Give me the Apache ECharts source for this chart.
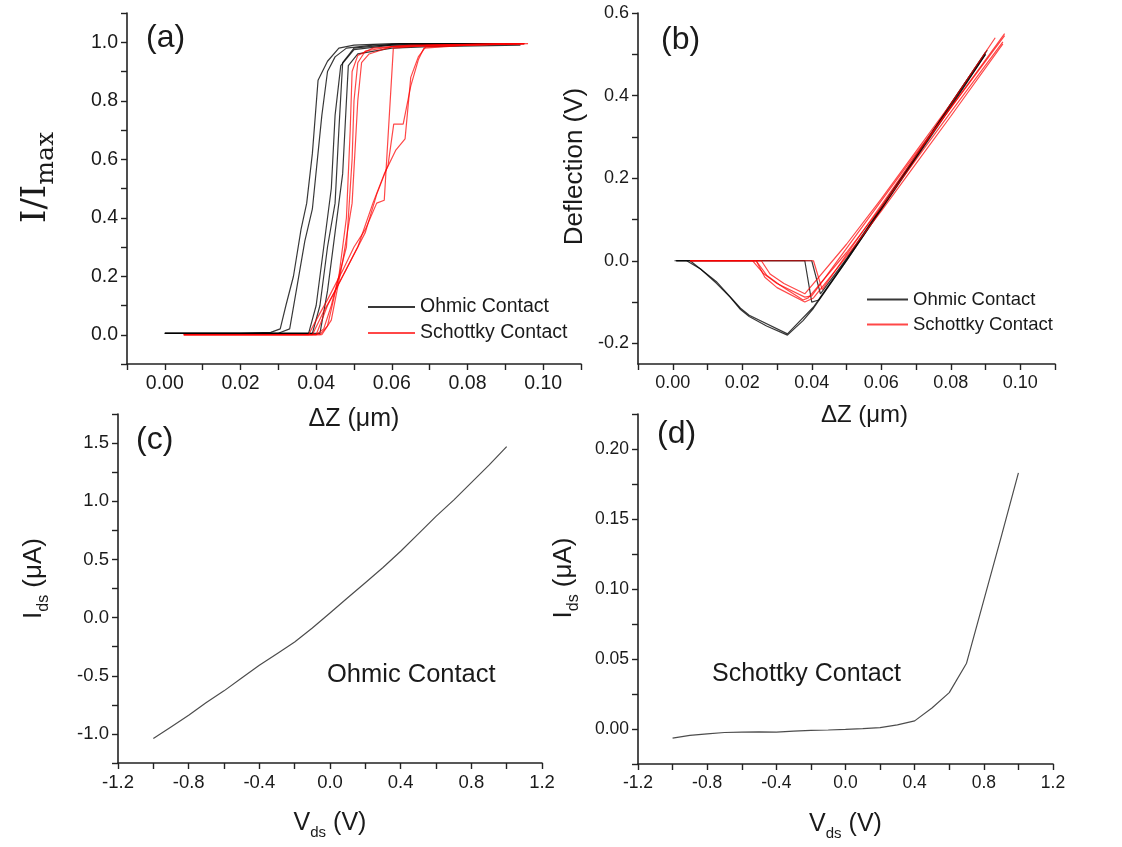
<!DOCTYPE html>
<html>
<head>
<meta charset="utf-8">
<script src="https://cdn.jsdelivr.net/npm/echarts@6.0.0/dist/echarts.min.js"></script>
<style>
html,body{margin:0;padding:0;background:#fff;}
#chart{width:1122px;height:847px;}
</style>
</head>
<body>
<div id="chart"></div>
<script>
// ---------- Panel (a): normalized current vs ΔZ (μm) ----------
const aOhmic1 = [[0.000,0.005],[0.020,0.005],[0.028,0.008],[0.0305,0.02],[0.032,0.10],[0.034,0.20],[0.036,0.36],[0.0375,0.45],[0.039,0.62],[0.0405,0.87],[0.043,0.935],[0.046,0.98],[0.050,0.99],[0.060,0.995],[0.095,0.995]];
const aOhmic2 = [[0.000,0.005],[0.030,0.005],[0.033,0.02],[0.035,0.17],[0.037,0.32],[0.039,0.43],[0.0415,0.75],[0.043,0.90],[0.045,0.95],[0.048,0.98],[0.055,0.99],[0.094,0.995]];
const aOhmic3 = [[0.000,0.005],[0.038,0.005],[0.040,0.10],[0.042,0.30],[0.044,0.50],[0.045,0.75],[0.0465,0.92],[0.050,0.975],[0.060,0.99],[0.093,0.995]];
const aOhmic4 = [[0.000,0.005],[0.039,0.005],[0.041,0.10],[0.043,0.30],[0.045,0.45],[0.046,0.70],[0.047,0.93],[0.050,0.98],[0.062,0.995],[0.092,0.995]];
const aOhmic5 = [[0.000,0.005],[0.041,0.005],[0.043,0.15],[0.045,0.35],[0.047,0.55],[0.048,0.80],[0.0485,0.92],[0.051,0.96],[0.060,0.98],[0.070,0.985],[0.094,0.99]];
const aSchottky1 = [[0.005,0.0],[0.040,0.0],[0.042,0.02],[0.044,0.10],[0.046,0.20],[0.048,0.40],[0.049,0.70],[0.0495,0.90],[0.051,0.955],[0.055,0.98],[0.065,0.99],[0.095,0.995]];
const aSchottky2 = [[0.005,0.0],[0.041,0.0],[0.043,0.03],[0.046,0.20],[0.048,0.30],[0.0495,0.60],[0.050,0.80],[0.051,0.93],[0.053,0.97],[0.060,0.985],[0.090,0.995]];
const aSchottky3 = [[0.005,0.0],[0.0415,0.0],[0.044,0.05],[0.047,0.25],[0.0495,0.45],[0.051,0.80],[0.052,0.93],[0.054,0.96],[0.060,0.985],[0.095,0.995]];
const aSchottky4 = [[0.005,0.0],[0.038,0.0],[0.040,0.05],[0.043,0.12],[0.047,0.22],[0.050,0.30],[0.053,0.36],[0.056,0.45],[0.058,0.46],[0.0604,0.98],[0.070,0.99],[0.095,0.995]];
const aSchottky5 = [[0.005,0.0],[0.039,0.0],[0.042,0.08],[0.045,0.15],[0.049,0.25],[0.053,0.35],[0.056,0.48],[0.059,0.58],[0.0605,0.72],[0.063,0.72],[0.065,0.85],[0.067,0.94],[0.0685,0.98],[0.080,0.99],[0.095,0.995]];
const aSchottky6 = [[0.005,0.0],[0.040,0.0],[0.043,0.10],[0.047,0.20],[0.051,0.30],[0.055,0.45],[0.058,0.55],[0.061,0.63],[0.0635,0.67],[0.065,0.88],[0.067,0.95],[0.069,0.985],[0.080,0.99],[0.096,0.995]];

// ---------- Panel (b): deflection (V) vs ΔZ (μm) ----------
const bOhmic1 = [[0.0005,0],[0.004,0],[0.008,-0.02],[0.0125,-0.054],[0.0165,-0.088],[0.0195,-0.118],[0.022,-0.135],[0.027,-0.158],[0.033,-0.18],[0.0375,-0.145],[0.0405,-0.115],[0.050,0.0],[0.060,0.125],[0.070,0.25],[0.080,0.38],[0.0905,0.51]];
const bOhmic2 = [[0.001,0],[0.005,0],[0.0125,-0.05],[0.0195,-0.115],[0.022,-0.132],[0.033,-0.177],[0.0405,-0.112],[0.050,0.003],[0.070,0.252],[0.090,0.50]];
const bOhmic3 = [[0.001,0],[0.038,0],[0.040,-0.10],[0.042,-0.095],[0.050,0.0],[0.060,0.124],[0.070,0.248],[0.080,0.372],[0.090,0.50]];
const bOhmic4 = [[0.001,0],[0.040,0],[0.0425,-0.08],[0.050,0.005],[0.090,0.505]];
const bSchottky1 = [[0.005,0],[0.023,0],[0.026,-0.03],[0.030,-0.055],[0.038,-0.088],[0.040,-0.085],[0.050,0.03],[0.060,0.145],[0.070,0.26],[0.080,0.37],[0.0955,0.55]];
const bSchottky2 = [[0.005,0],[0.024,0],[0.027,-0.035],[0.031,-0.06],[0.0375,-0.095],[0.039,-0.09],[0.050,0.02],[0.060,0.13],[0.070,0.245],[0.080,0.36],[0.095,0.53]];
const bSchottky3 = [[0.005,0],[0.0255,0],[0.028,-0.032],[0.032,-0.055],[0.038,-0.08],[0.050,0.04],[0.060,0.15],[0.070,0.265],[0.080,0.38],[0.0928,0.54]];
const bSchottky4 = [[0.005,0],[0.0405,0],[0.043,-0.07],[0.050,0.015],[0.060,0.135],[0.070,0.255],[0.080,0.37],[0.0955,0.545]];
const bSchottky5 = [[0.005,0],[0.024,0],[0.0265,-0.04],[0.030,-0.065],[0.038,-0.10],[0.0405,-0.09],[0.050,0.01],[0.060,0.12],[0.070,0.235],[0.080,0.35],[0.095,0.525]];

// ---------- Panels (c), (d): I-V curves ----------
const vds = [-1.0,-0.9,-0.8,-0.7,-0.6,-0.5,-0.4,-0.3,-0.2,-0.1,0.0,0.1,0.2,0.3,0.4,0.5,0.6,0.7,0.8,0.9,1.0];
const idsOhmic = [-1.04,-0.94,-0.84,-0.73,-0.63,-0.52,-0.41,-0.31,-0.21,-0.09,0.04,0.17,0.30,0.43,0.57,0.72,0.87,1.01,1.16,1.31,1.47];
const idsSchottky = [-0.0065,-0.0045,-0.0035,-0.0025,-0.0022,-0.002,-0.0022,-0.0015,-0.001,-0.0007,-0.0003,0.0003,0.001,0.003,0.0058,0.015,0.026,0.047,0.092,0.137,0.183];

// ---------- Tick values / tick labels ----------
const dzTicks = [-0.01,0.00,0.01,0.02,0.03,0.04,0.05,0.06,0.07,0.08,0.09,0.10,0.11];
const dzLabels = [0.00,0.02,0.04,0.06,0.08,0.10];
const aYTicks = [-0.1,0.0,0.1,0.2,0.3,0.4,0.5,0.6,0.7,0.8,0.9,1.0,1.1];
const aYLabels = [0.0,0.2,0.4,0.6,0.8,1.0];
const bYTicks = [-0.2,-0.1,0.0,0.1,0.2,0.3,0.4,0.5,0.6];
const bYLabels = [-0.2,0.0,0.2,0.4,0.6];
const vTicks = [-1.2,-1.0,-0.8,-0.6,-0.4,-0.2,0.0,0.2,0.4,0.6,0.8,1.0,1.2];
const vLabels = [-1.2,-0.8,-0.4,0.0,0.4,0.8,1.2];
const cYTicks = [-1.25,-1.0,-0.75,-0.5,-0.25,0.0,0.25,0.5,0.75,1.0,1.25,1.5,1.75];
const cYLabels = [-1.0,-0.5,0.0,0.5,1.0,1.5];
const dYTicks = [-0.025,0.0,0.025,0.05,0.075,0.1,0.125,0.15,0.175,0.2,0.225];
const dYLabels = [0.00,0.05,0.10,0.15,0.20];

const OHM = 'Ohmic Contact', SCH = 'Schottky Contact';
const BLACK = 'rgba(0,0,0,0.78)', RED = 'rgba(255,0,0,0.72)';
const FONT = '"Liberation Sans", Arial, sans-serif';
const SERIF = '"DejaVu Serif", "Liberation Serif", serif';
const TXT = '#1a1a1a';

function axis(type, grid, min, max, ticks, labels, dec, fs, extra) {
  const o = {
    type: 'value', gridIndex: grid, min: min, max: max, scale: true,
    axisLine: {show: true, onZero: false, lineStyle: {color: '#222', width: 1.6}},
    axisTick: {show: true, inside: false, length: 6, customValues: ticks, lineStyle: {color: '#222', width: 1.4}},
    axisLabel: {show: true, customValues: labels, margin: type === 'x' ? 10 : 9,
      formatter: v => Number(v).toFixed(dec), color: TXT, fontSize: fs, fontFamily: FONT, showMinLabel: true, showMaxLabel: true},
    splitLine: {show: false}, minorTick: {show: false}, minorSplitLine: {show: false}
  };
  return Object.assign(o, extra || {});
}

function subRich(fm, fsub, lh) {
  return {
    m: {fontSize: fm, lineHeight: lh, fontFamily: FONT, color: TXT},
    s: {fontSize: fsub, lineHeight: fsub, fontFamily: FONT, color: TXT, verticalAlign: 'bottom'}
  };
}

const option = {
  backgroundColor: '#fff',
  animation: false,
  grid: [
    {left: 127, top: 13, width: 454, height: 351},
    {left: 638, top: 13, width: 417, height: 351},
    {left: 118, top: 414, width: 424, height: 349},
    {left: 638, top: 414, width: 415, height: 350}
  ],
  xAxis: [
    axis('x', 0, -0.01, 0.11, dzTicks, dzLabels, 2, 19.5, {name: 'ΔZ (μm)', nameLocation: 'middle', nameGap: 42,
      nameTextStyle: {fontSize: 25, fontFamily: FONT, color: TXT, lineHeight: 26, verticalAlign: 'top'}}),
    axis('x', 1, -0.01, 0.11, dzTicks, dzLabels, 2, 18, {name: 'ΔZ (μm)', nameLocation: 'middle', nameGap: 38,
      nameTextStyle: {fontSize: 24, fontFamily: FONT, color: TXT, lineHeight: 26, verticalAlign: 'top', padding: [0,0,0,36]}}),
    axis('x', 2, -1.2, 1.2, vTicks, vLabels, 1, 18.5, {name: '{m|V}{s|ds}{m| (V)}', nameLocation: 'middle', nameGap: 43,
      nameTextStyle: {rich: subRich(25, 15, 34), verticalAlign: 'top'}}),
    axis('x', 3, -1.2, 1.2, vTicks, vLabels, 1, 17.5, {name: '{m|V}{s|ds}{m| (V)}', nameLocation: 'middle', nameGap: 43,
      nameTextStyle: {rich: subRich(25, 15, 34), verticalAlign: 'top'}})
  ],
  yAxis: [
    axis('y', 0, -0.1, 1.1, aYTicks, aYLabels, 1, 19.5, {name: '{m|I/I}{s|max}', nameLocation: 'middle', nameGap: 68,
      nameRotate: 90, nameTextStyle: {padding: [0,0,0,22], rich: {
        m: {fontSize: 34, lineHeight: 46, fontFamily: SERIF, color: TXT},
        s: {fontSize: 25, lineHeight: 25, fontFamily: SERIF, color: TXT, verticalAlign: 'bottom'}}}}),
    axis('y', 1, -0.25, 0.6, bYTicks, bYLabels, 1, 18, {name: 'Deflection (V)', nameLocation: 'middle', nameGap: 50,
      nameRotate: 90, nameTextStyle: {fontSize: 26, fontFamily: FONT, color: TXT, padding: [0,0,0,44]}}),
    axis('y', 2, -1.25, 1.75, cYTicks, cYLabels, 1, 18.5, {name: '{m|I}{s|ds}{m| (μA)}', nameLocation: 'middle', nameGap: 66,
      nameRotate: 90, nameTextStyle: {rich: subRich(26, 16, 36), padding: [0,0,0,20]}}),
    axis('y', 3, -0.025, 0.225, dYTicks, dYLabels, 2, 17.5, {name: '{m|I}{s|ds}{m| (μA)}', nameLocation: 'middle', nameGap: 56,
      nameRotate: 90, nameTextStyle: {rich: subRich(26, 16, 36), padding: [0,0,0,22]}})
  ],
  legend: [
    {data: [OHM, SCH], orient: 'vertical', left: 363, top: 292, itemWidth: 47, itemHeight: 2, itemGap: 6, icon: 'rect',
      textStyle: {fontSize: 19.5, fontFamily: FONT, color: TXT}, selectedMode: false},
    {data: [OHM, SCH], orient: 'vertical', left: 862, top: 285, itemWidth: 41, itemHeight: 2, itemGap: 6, icon: 'rect',
      textStyle: {fontSize: 18.5, fontFamily: FONT, color: TXT}, selectedMode: false}
  ],
  graphic: [
    {type: 'text', left: 146, top: 22, style: {text: '(a)', fontSize: 32, fontFamily: FONT, fill: TXT}},
    {type: 'text', left: 661, top: 24, style: {text: '(b)', fontSize: 32, fontFamily: FONT, fill: TXT}},
    {type: 'text', left: 136, top: 424, style: {text: '(c)', fontSize: 32, fontFamily: FONT, fill: TXT}},
    {type: 'text', left: 657, top: 418, style: {text: '(d)', fontSize: 32, fontFamily: FONT, fill: TXT}},
    {type: 'text', left: 327, top: 662, style: {text: 'Ohmic Contact', fontSize: 25.5, fontFamily: FONT, fill: TXT}},
    {type: 'text', left: 712, top: 662, style: {text: 'Schottky Contact', fontSize: 25, fontFamily: FONT, fill: TXT}}
  ],
  series: []
};

function add(name, data, g, color) {
  option.series.push({name: name, type: 'line', data: data, xAxisIndex: g, yAxisIndex: g,
    symbol: 'none', smooth: false, color: color, lineStyle: {width: 1.2, color: color}});
}
[aOhmic1, aOhmic2, aOhmic3, aOhmic4, aOhmic5].forEach(d => add(OHM, d, 0, BLACK));
[aSchottky1, aSchottky2, aSchottky3, aSchottky4, aSchottky5, aSchottky6].forEach(d => add(SCH, d, 0, RED));
[bOhmic1, bOhmic2, bOhmic3, bOhmic4].forEach(d => add(OHM, d, 1, BLACK));
[bSchottky1, bSchottky2, bSchottky3, bSchottky4, bSchottky5].forEach(d => add(SCH, d, 1, RED));
add('Ohmic I-V', vds.map((v, i) => [v, idsOhmic[i]]), 2, 'rgba(0,0,0,0.7)');
add('Schottky I-V', vds.map((v, i) => [v, idsSchottky[i]]), 3, 'rgba(0,0,0,0.7)');

const chart = echarts.init(document.getElementById('chart'), null, {renderer: 'canvas'});
chart.setOption(option);
</script>
</body>
</html>
